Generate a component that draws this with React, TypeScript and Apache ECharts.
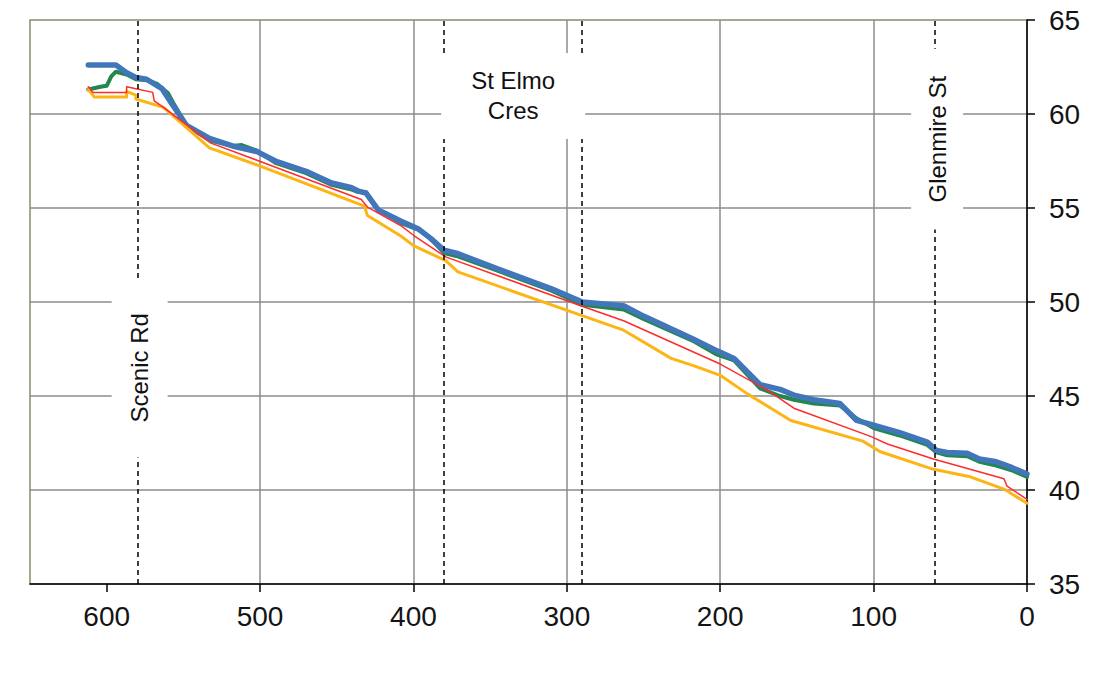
import React, { useEffect, useRef } from 'react';
import * as echarts from 'echarts';

// Distance (m) and elevation (m) readings for each profile
const blueDist = [612, 594, 587, 581, 574, 564, 558, 548, 533, 518, 502, 490, 470, 454, 441, 436, 431, 423, 408, 397, 389, 380, 372, 343, 310, 294, 290, 263, 250, 217, 202, 191, 174, 161, 152, 139, 122, 111, 100, 83, 65, 59, 52, 39, 31, 20, 10, 0];
const blueElev = [62.6, 62.6, 62.2, 61.95, 61.85, 61.35, 60.6, 59.4, 58.7, 58.3, 58.0, 57.5, 56.95, 56.35, 56.1, 55.9, 55.8, 54.9, 54.3, 53.9, 53.4, 52.75, 52.6, 51.7, 50.7, 50.15, 50.0, 49.8, 49.25, 48.0, 47.4, 47.0, 45.6, 45.35, 45.05, 44.8, 44.6, 43.7, 43.45, 43.05, 42.55, 42.1, 42.0, 41.95, 41.65, 41.5, 41.2, 40.85];

const greenDist = [612, 604, 600, 597, 594, 587, 581, 574, 567, 560, 556, 548, 533, 518, 512, 502, 490, 470, 454, 441, 436, 431, 423, 408, 397, 389, 380, 372, 343, 310, 294, 290, 263, 250, 217, 202, 191, 174, 161, 152, 139, 122, 111, 100, 83, 65, 59, 52, 39, 31, 20, 10, 0];
const greenElev = [61.3, 61.45, 61.5, 62.0, 62.25, 62.1, 61.85, 61.8, 61.6, 61.1, 60.5, 59.4, 58.6, 58.3, 58.35, 58.05, 57.4, 56.85, 56.25, 56.0, 55.85, 55.85, 54.9, 54.2, 53.85, 53.4, 52.6, 52.45, 51.6, 50.6, 50.0, 49.85, 49.6, 49.1, 47.9, 47.2, 46.9, 45.4, 45.0, 44.8, 44.6, 44.5, 43.8, 43.3, 42.9, 42.4, 42.0, 41.85, 41.8, 41.5, 41.3, 41.05, 40.7];

const redDist = [612, 609, 587, 587, 570, 569, 563, 546, 532, 499, 434, 430, 408, 400, 379, 345, 291, 263, 200, 169, 152, 102, 91, 61, 15, 13, 0];
const redElev = [61.45, 61.15, 61.15, 61.45, 61.15, 60.7, 60.35, 59.3, 58.45, 57.45, 55.45, 55.05, 54.05, 53.55, 52.4, 51.4, 49.8, 49.0, 46.7, 45.3, 44.35, 42.85, 42.45, 41.65, 40.6, 40.2, 39.5];

const orangeDist = [612, 608, 587, 587, 581, 581, 563, 558, 533, 499, 432, 430, 408, 400, 379, 371, 291, 263, 232, 217, 200, 182, 154, 107, 96, 61, 37, 15, 0];
const orangeElev = [61.3, 60.9, 60.9, 61.2, 61.0, 60.8, 60.35, 60.0, 58.2, 57.2, 55.1, 54.6, 53.5, 53.0, 52.2, 51.6, 49.3, 48.5, 47.0, 46.6, 46.1, 45.1, 43.7, 42.6, 42.05, 41.1, 40.7, 40.05, 39.3];

// Cross streets
const streetLineDist = [580, 380, 290, 60];
const streetNames = ['Scenic Rd', 'St Elmo\nCres', 'Glenmire St'];
const streetLabelDist = [578.5, 335, 58.6];
const streetLabelElev = [46.5, 60.96, 58.66];

// Axes
const xTickValues = [0, 100, 200, 300, 400, 500, 600];
const xMin = 0;
const xMax = 650;
const yMin = 35;
const yMax = 65;
const yStep = 5;

const pairs = (xs: number[], ys: number[]) => xs.map((x, i) => [x, ys[i]]);

const FONT = "'Liberation Sans', Arial, sans-serif";

const labelStyles = [
  { rotate: 90, padding: [15, 35], lineHeight: 26 },
  { rotate: 0, padding: [13, 30], lineHeight: 30 },
  { rotate: 90, padding: [13, 27], lineHeight: 26 },
];

export default function App() {
  const ref = useRef<HTMLDivElement>(null);
  useEffect(() => {
    const chart = echarts.init(ref.current!, null, { renderer: 'svg' });
    const lineSeries = (name: string, data: number[][], color: string, width: number, z: number) => ({
      name,
      type: 'line',
      data,
      symbol: 'none',
      showSymbol: false,
      silent: true,
      z,
      lineStyle: { color, width, join: 'round', cap: 'round' },
      itemStyle: { color },
    });
    const option: any = {
      animation: false,
      backgroundColor: '#ffffff',
      grid: {
        left: 30,
        right: 86,
        top: 20,
        bottom: 97,
        show: true,
        borderColor: '#8a8a6c',
        borderWidth: 1.5,
        backgroundColor: '#ffffff',
      },
      xAxis: {
        type: 'value',
        inverse: true,
        min: xMin,
        max: xMax,
        interval: 100,
        axisLine: { show: true, onZero: false, lineStyle: { color: '#000', width: 1.5 } },
        axisTick: { show: true, length: 8, customValues: xTickValues, lineStyle: { color: '#000', width: 1.5 } },
        axisLabel: {
          color: '#141414',
          fontSize: 28,
          fontFamily: FONT,
          margin: 18,
          customValues: xTickValues,
        },
        splitLine: { show: true, showMaxLine: false, showMinLine: false, lineStyle: { color: '#8c8c8c', width: 1.5 } },
      },
      yAxis: {
        type: 'value',
        position: 'right',
        min: yMin,
        max: yMax,
        interval: yStep,
        axisLine: { show: true, onZero: false, lineStyle: { color: '#000', width: 1.5 } },
        axisTick: { show: true, length: 8, lineStyle: { color: '#000', width: 1.5 } },
        axisLabel: { color: '#141414', fontSize: 28, fontFamily: FONT, margin: 22 },
        splitLine: { show: true, showMaxLine: false, showMinLine: false, lineStyle: { color: '#8c8c8c', width: 1.5 } },
      },
      series: [
        lineSeries('Green', pairs(greenDist, greenElev), '#23874d', 4, 2),
        lineSeries('Blue', pairs(blueDist, blueElev), '#4176ba', 5.5, 2),
        lineSeries('Orange', pairs(orangeDist, orangeElev), '#fdb515', 3, 2),
        lineSeries('Red', pairs(redDist, redElev), '#ff2b2b', 1.5, 2),
        {
          name: 'Streets',
          type: 'line',
          data: [],
          z: 3,
          silent: true,
          markLine: {
            silent: true,
            symbol: ['none', 'none'],
            label: { show: false },
            lineStyle: { type: [5, 4], color: '#000', width: 1.5 },
            data: streetLineDist.map((d) => ({ xAxis: d })),
          },
        },
        ...streetNames.map((name, i) => ({
          name: 'label-' + i,
          type: 'scatter',
          z: 5,
          silent: true,
          symbol: 'circle',
          symbolSize: 0,
          itemStyle: { color: '#ffffff', opacity: 1 },
          data: [[streetLabelDist[i], streetLabelElev[i]]],
          label: {
            show: true,
            position: 'inside',
            formatter: name,
            rotate: labelStyles[i].rotate,
            align: 'center',
            verticalAlign: 'middle',
            color: '#111111',
            opacity: 1,
            fontSize: 24,
            fontFamily: FONT,
            lineHeight: labelStyles[i].lineHeight,
            backgroundColor: '#ffffff',
            padding: labelStyles[i].padding,
          },
        })),
      ],
    };
    chart.setOption(option);
    return () => chart.dispose();
  }, []);
  return (
    <div
      ref={ref}
      style={{ position: 'absolute', left: 0, top: 0, width: 1113, height: 681, background: '#fff' }}
    />
  );
}
